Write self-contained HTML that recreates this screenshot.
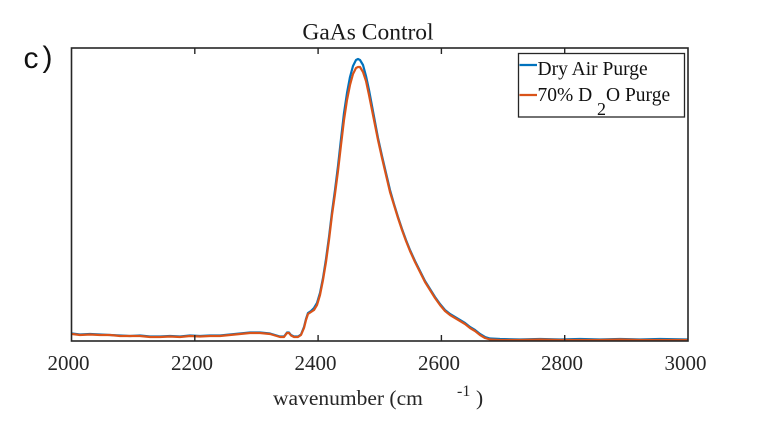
<!DOCTYPE html>
<html>
<head>
<meta charset="utf-8">
<style>
html,body{margin:0;padding:0;background:#fff;}
body{width:759px;height:430px;overflow:hidden;position:relative;}
svg{position:absolute;left:0;top:0;}
</style>
</head>
<body>
<svg width="759" height="430" viewBox="0 0 759 430" xmlns="http://www.w3.org/2000/svg">
  <rect x="0" y="0" width="759" height="430" fill="#fff"/>
  <!-- panel label -->
  <text x="23.5" y="68" font-family="Liberation Sans, sans-serif" font-size="30" fill="#111">c</text>
  <text x="42.5" y="67" font-family="Liberation Sans, sans-serif" font-size="30" fill="#111">)</text>
  <!-- title -->
  <text x="368" y="39.5" text-anchor="middle" font-family="Liberation Serif, serif" font-size="23.5" fill="#1a1a1a">GaAs Control</text>

  <!-- series: blue -->
  <polyline fill="none" stroke="#0072BD" stroke-width="2.2" stroke-linejoin="round"
    points="72,333.5 80,334.5 90,334 100,334.5 110,335 120,335.5 130,336 140,335.5 150,336.5 160,336.5 170,336 180,336.5 190,335.5 200,336 210,335.5 220,335.5 230,334.5 240,333.5 250,332.5 260,332.5 265,333 270,333.5 275,335 280,336.5 284,336.5 287,332.5 289,332.5 291,335 294,336.5 298,336.5 301,334.5 304,327 306,319 308,313 311,311 314,308 317,303 320,293 323,278 326,259 329,237 332,212 335,190 338,166 341,139 344,113 347,93 350,77 353,66 356,60 358,59 360,60 363,65 366,76 369,90 372,106 375,122 378,138 382,156 386,173 390,190 394,204 398,217 402,229 406,240 410,250 415,261 420,271 425,281 430,289 435,297 440,304 445,310 450,314 455,317 460,320 465,323 470,327 475,330 480,334 485,337 490,338.5 500,339 520,339.5 540,339 560,339.5 580,339 600,339.5 620,339 640,339.5 660,339 688,339.5"/>
  <!-- series: orange -->
  <polyline fill="none" stroke="#D95319" stroke-width="2.2" stroke-linejoin="round"
    points="72,334 80,335 90,334.5 100,335 110,335 120,336 130,336 140,336 150,337 160,337 170,336.5 180,337 190,336 200,336.5 210,336 220,336 230,335 240,334 250,333 260,333 265,333.5 270,334 275,335.5 280,337 284,337 287,333 289,333 291,335.5 294,337 298,337 301,335 304,328 306,320 308,314 311,312 314,310 317,305 320,295 323,280 326,262 329,240 332,215 335,194 338,171 341,145 344,120 347,100 350,85 353,74 356,68 358,67 360,67 363,72 366,81 369,95 372,110 375,125 378,140 382,158 386,175 390,192 394,205 398,218 402,230 406,241 410,251 415,262 420,272 425,282 430,290 435,298 440,305 445,311 450,315 455,318 460,321 465,324 470,328 475,331 480,335 485,338 490,339.5 500,340 520,340 540,339.5 560,340 580,340 600,340 620,339.5 640,340 660,340 688,340"/>

  <!-- axes box -->
  <rect x="71.5" y="48" width="616.5" height="293" fill="none" stroke="#262626" stroke-width="1.6"/>
  <!-- ticks -->
  <g stroke="#262626" stroke-width="1.4">
    <line x1="194.8" y1="341" x2="194.8" y2="335"/>
    <line x1="318.1" y1="341" x2="318.1" y2="335"/>
    <line x1="441.4" y1="341" x2="441.4" y2="335"/>
    <line x1="564.7" y1="341" x2="564.7" y2="335"/>
    <line x1="194.8" y1="48" x2="194.8" y2="54"/>
    <line x1="318.1" y1="48" x2="318.1" y2="54"/>
    <line x1="441.4" y1="48" x2="441.4" y2="54"/>
    <line x1="564.7" y1="48" x2="564.7" y2="54"/>
  </g>
  <!-- tick labels -->
  <g font-family="Liberation Serif, serif" font-size="21" fill="#262626" text-anchor="middle">
    <text x="68.5" y="370">2000</text>
    <text x="192" y="370">2200</text>
    <text x="315.5" y="370">2400</text>
    <text x="439" y="370">2600</text>
    <text x="562" y="370">2800</text>
    <text x="685.5" y="370">3000</text>
  </g>
  <!-- x label -->
  <g font-family="Liberation Serif, serif" fill="#262626">
    <text x="273" y="405" font-size="21.5">wavenumber (cm</text>
    <text x="457" y="396" font-size="16">-1</text>
    <text x="476" y="405" font-size="21.5">)</text>
  </g>

  <!-- legend -->
  <rect x="518.5" y="53.5" width="166" height="63.5" fill="#fff" stroke="#262626" stroke-width="1.3"/>
  <line x1="519.5" y1="65" x2="537" y2="65" stroke="#0072BD" stroke-width="2.2"/>
  <line x1="519.5" y1="95" x2="537" y2="95" stroke="#D95319" stroke-width="2.2"/>
  <g font-family="Liberation Serif, serif" font-size="19.5" fill="#111">
    <text x="537.5" y="75">Dry Air Purge</text>
    <text x="537.5" y="101">70% D</text>
    <text x="597" y="115" font-size="18">2</text>
    <text x="606" y="101">O Purge</text>
  </g>
</svg>
</body>
</html>
